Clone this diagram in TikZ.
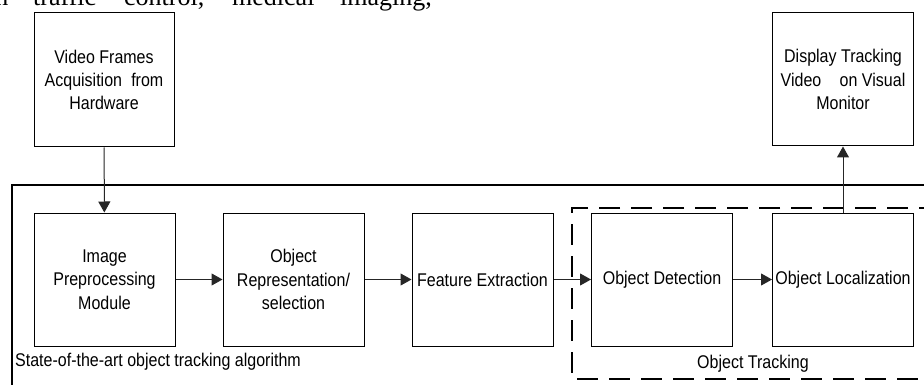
\documentclass[tikz,border=0pt]{standalone}
\usepackage{fontspec}
\setmainfont{Liberation Sans}[FakeStretch=0.87]
\newfontfamily\bodyserif{Liberation Serif}
\usetikzlibrary{arrows.meta}

\begin{document}
\begin{tikzpicture}[x=1pt,y=-1pt,
  block/.style={draw=black,line width=1pt,minimum width=141pt,minimum height=133pt,
    inner sep=0pt,align=center,font=\fontsize{18.4}{23.3}\selectfont},
  flow/.style={draw=black!85,line width=1pt,-{Triangle[length=11pt,width=12pt]}},
  frame/.style={draw=black,line width=1.1pt},
  group/.style={draw=black,line width=1.5pt,dash pattern=on 21pt off 11pt},
  caption/.style={inner sep=0pt,anchor=base west,font=\fontsize{18.4}{23.3}\selectfont},
  prose/.style={inner sep=0pt,anchor=base west,font=\bodyserif\fontsize{26}{30}\selectfont}]
\useasboundingbox (0,0) rectangle (924,385);
\fill[white] (0,0) rectangle (924,385);

% running text of the page above the figure
\node[prose,anchor=base east] (w1) at (8.5,6) {in};
\node[prose] (w2) at (33,6) {traffic};
\node[prose] (w3) at (124,6) {control,};
\node[prose] (w4) at (232,6) {medical};
\node[prose] (w5) at (340,6) {imaging,};

% enclosing frame of the tracking algorithm
\draw[frame] (12,400) -- (12,185) -- (940,185);
\node[caption] (algo) at (15,366) {State-of-the-art object tracking algorithm};

% dashed group around detection and localization
\draw[group] (940,208) -- (572,208) -- (572,379) -- (940,379);
\node[caption] (trk) at (697,368) {Object Tracking};

% blocks
\node[block,minimum width=140pt,minimum height=134pt] (vid) at (104,80)
  {Video Frames\\Acquisition\hspace{0.5em}from\\Hardware};
\node[block] (img) at (104.5,279.5) {Image\\Preprocessing\\Module};
\node[block] (rep) at (293.5,279.5) {Object\\Representation/\\selection};
\node[block] (feat) at (482.5,279.5) {Feature Extraction};
\node[block] (det) at (662,279.5) {Object Detection};
\node[block] (loc) at (843,279.5) {Object Localization};
\node[block,minimum height=133pt] (disp) at (843,79.5)
  {Display Tracking\\Video\hspace{1em}on Visual\\Monitor};

% connectors
\draw[flow] (vid) -- (img);
\draw[flow] (img) -- (rep);
\draw[flow] (rep) -- (feat);
\draw[flow] (feat) -- (det);
\draw[flow] (det) -- (loc);
\draw[flow] (loc) -- (disp);
\end{tikzpicture}
\end{document}
